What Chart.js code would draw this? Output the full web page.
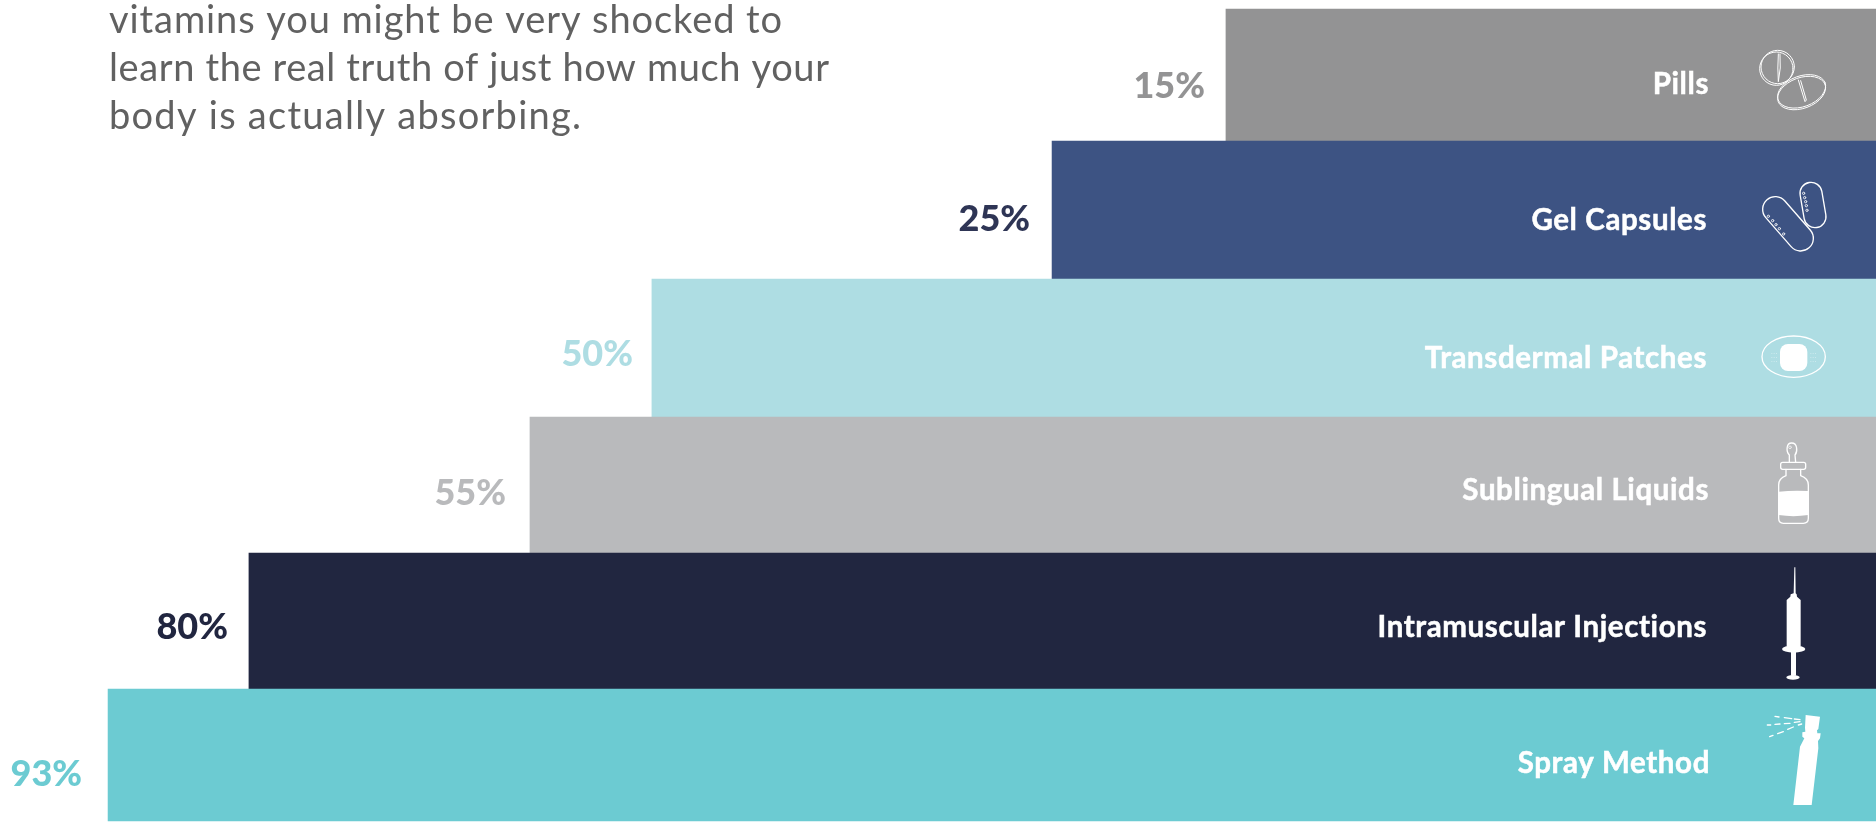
<!DOCTYPE html>
<html>
<head>
<meta charset="utf-8">
<style>html,body{margin:0;padding:0;background:#fff;overflow:hidden}canvas{display:block}</style>
<script src="https://cdn.jsdelivr.net/npm/chart.js@4/dist/chart.umd.min.js"></script>
</head>
<body>
<canvas id="c" width="1876" height="822"></canvas>
<script>
const introLines = ["vitamins you might be very shocked to","learn the real truth of just how much your","body is actually absorbing."];
const categories = ["Pills","Gel Capsules","Transdermal Patches","Sublingual Liquids","Intramuscular Injections","Spray Method"];
const absorption = [15,25,50,55,80,93];
const barColors = ["#939394","#3d5383","#aedde3","#b9babc","#212640","#6ccbd2"];
const labelColors = ["#939394","#2e3555","#aedde3","#b9babc","#212640","#6ccbd2"];

// The picture's bar lengths are not proportional to the printed percentages,
// so the value axis is a piecewise scale: value -> share of the plot width.
const axisValues = [0,15,25,50,55,80,93];
const axisShares = [0,0.3465,0.4392,0.6525,0.7175,0.8673,0.9424];
class StepAxis extends Chart.LinearScale {
  static id = 'stepAxis';
  static defaults = Chart.LinearScale.defaults;
  getPixelForValue(v){
    let i = 1;
    while(i < axisValues.length-1 && v > axisValues[i]) i++;
    const t = (v-axisValues[i-1])/(axisValues[i]-axisValues[i-1]);
    const s = axisShares[i-1]+t*(axisShares[i]-axisShares[i-1]);
    return this.right - s*(this.right-this.left);
  }
}
// The bands are slightly uneven in the picture; centres are shares of the plot height.
const bandShares = [0.0823,0.2445,0.4214,0.5835,0.7555,0.9177];
class BandAxis extends Chart.CategoryScale {
  static id = 'bandAxis';
  static defaults = Chart.CategoryScale.defaults;
  getPixelForValue(v){
    const i = typeof v === 'number' ? v : this.parse(v);
    return this.top + bandShares[i]*(this.bottom-this.top);
  }
}
Chart.register(StepAxis, BandAxis);

const catDy = [9.5,13.5,7.5,7.5,4.5,8.5];
const pctDy = [11.5,12.5,3,10,4.5,19.5];
const catRight = [1709,1707,1707,1709,1707,1710];
const pctGap = [21,22,19,24,21,26];
const introWidths = [673,720,472];

function icons(ctx){
  const W='#fff';
  function at(x,y,f){ctx.save();ctx.translate(x,y);ctx.scale(1/3,1/3);ctx.strokeStyle=W;ctx.fillStyle=W;ctx.lineWidth=4;ctx.lineCap='round';ctx.lineJoin='round';f();ctx.restore();}
  const capsule=(x1,y1,x2,y2,r)=>{const a=Math.atan2(y2-y1,x2-x1);ctx.beginPath();ctx.arc(x1,y1,r,a+Math.PI/2,a-Math.PI/2);ctx.arc(x2,y2,r,a-Math.PI/2,a+Math.PI/2);ctx.closePath();ctx.stroke();};
  const poly=p=>{ctx.beginPath();p.forEach((q,i)=>i?ctx.lineTo(q[0],q[1]):ctx.moveTo(q[0],q[1]));};
  // pills
  at(1750,40,()=>{
    ctx.lineWidth=3;
    ctx.beginPath();ctx.arc(79,86,50,0,7);ctx.stroke();
    ctx.beginPath();ctx.arc(83,81,50,0,7);ctx.stroke();
    ctx.beginPath();ctx.moveTo(85,42);ctx.quadraticCurveTo(82,85,85,125);ctx.quadraticCurveTo(94,85,90,42);ctx.stroke();
    ctx.beginPath();ctx.ellipse(155,159,75,46,-0.35,0,7);ctx.stroke();
    ctx.beginPath();ctx.ellipse(155,154,75,46,-0.35,0,7);ctx.stroke();
    ctx.beginPath();ctx.moveTo(145,120);ctx.lineTo(165,185);ctx.lineTo(169,180);ctx.lineTo(152,122);ctx.stroke();
  });
  // gel capsules
  at(1750,170,()=>{
    capsule(76,118,152,205,38);
    capsule(183,70,195,140,33);
    ctx.lineWidth=2.5;
    [[55,139],[68,152],[78,164],[88,176],[101,192]].forEach(p=>{ctx.beginPath();ctx.arc(p[0],p[1],3.5,0,7);ctx.stroke();});
    [[161,70],[164,83],[167,95],[169,107],[171,121]].forEach(p=>{ctx.beginPath();ctx.arc(p[0],p[1],3.5,0,7);ctx.stroke();});
  });
  // patch
  at(1750,325,()=>{
    ctx.beginPath();ctx.ellipse(131,95,95,62,0,0,7);ctx.stroke();
    ctx.beginPath();ctx.roundRect(90,57,82,81,24);ctx.fill();
    ctx.fillStyle='rgba(255,255,255,.55)';
    [64,71,78,181,188,195].forEach(x=>[85,97,109].forEach(y=>ctx.fillRect(x,y,3,2)));
  });
  // dropper bottle
  at(1760,435,()=>{
    ctx.beginPath();
    ctx.moveTo(88,82);ctx.lineTo(88,60);ctx.bezierCurveTo(78,50,78,24,95,24);ctx.bezierCurveTo(113,24,113,50,105,60);ctx.lineTo(107,82);
    ctx.stroke();
    ctx.beginPath();ctx.arc(90,37,4,0,7);ctx.lineWidth=2;ctx.stroke();ctx.lineWidth=4;
    ctx.beginPath();ctx.roundRect(62,82,75,21,6);ctx.stroke();
    ctx.beginPath();ctx.moveTo(78,103);ctx.lineTo(78,122);ctx.quadraticCurveTo(56,130,56,150);ctx.lineTo(56,250);ctx.quadraticCurveTo(56,265,70,265);ctx.lineTo(130,265);ctx.quadraticCurveTo(145,265,145,250);ctx.lineTo(145,150);ctx.quadraticCurveTo(145,130,122,122);ctx.lineTo(122,103);ctx.stroke();
    ctx.beginPath();ctx.moveTo(56,170);ctx.quadraticCurveTo(100,165,145,168);ctx.lineTo(145,240);ctx.quadraticCurveTo(100,247,56,240);ctx.closePath();ctx.fill();
  });
  // syringe
  at(1760,560,()=>{
    poly([[103,22],[106,22],[107,100],[110,103],[111,110],[122,120],[122,258],[80,258],[80,120],[91,110],[92,103],[101,100]]);ctx.closePath();ctx.fill();
    ctx.beginPath();ctx.ellipse(101,267,35,11,0,0,7);ctx.fill();
    ctx.fillRect(93,275,15,72);
    ctx.beginPath();ctx.ellipse(99,352,20,7,0,0,7);ctx.fill();
  });
  // spray
  at(1755,705,()=>{
    poly([[152,30],[195,35],[190,72],[186,76],[187,85],[197,85],[195,100],[189,108],[190,130],[170,300],[115,300],[135,125],[148,100],[142,95],[142,82],[151,80],[150,68]]);ctx.closePath();ctx.fill();
    [[[60,34],[72,36]],[[88,38],[110,41]],[[118,42],[135,44]],[[37,60],[47,60]],[[60,58],[75,57]],[[88,56],[105,55]],[[118,52],[135,50]],[[44,95],[54,91]],[[68,86],[85,80]],[[98,73],[115,66]],[[130,60],[140,57]]].forEach(d=>{poly(d);ctx.stroke();});
  });
}

const overlay = {
  id:'overlay',
  afterDatasetsDraw(chart){
    const ctx = chart.ctx, bars = chart.getDatasetMeta(0).data, yS = chart.scales.y;
    ctx.save();
    ctx.textBaseline='middle';
    bars.forEach((b,i)=>{
      const c = yS.getPixelForValue(i);
      ctx.textAlign='right';
      ctx.font='700 29.5px Lato';
      ctx.letterSpacing='0.6px';
      ctx.fillStyle='#fff';
      ctx.strokeStyle='#fff';
      ctx.lineWidth=0.5;
      ctx.fillText(categories[i],catRight[i],c+catDy[i]);
      ctx.strokeText(categories[i],catRight[i],c+catDy[i]);
      ctx.font='900 36px Lato';
      ctx.letterSpacing='0px';
      ctx.fillStyle=labelColors[i];
      ctx.fillText(absorption[i]+'%',b.x-pctGap[i],c+pctDy[i]);
    });
    ctx.textAlign='left';ctx.textBaseline='alphabetic';
    ctx.font='400 38px Lato';
    ctx.fillStyle='#616161';
    introLines.forEach((t,i)=>{
      ctx.letterSpacing='0px';
      const w = ctx.measureText(t).width;
      ctx.letterSpacing=((introWidths[i]-w)/(t.length-1)).toFixed(3)+'px';
      ctx.fillText(t,109,33+48*i);
    });
    ctx.letterSpacing='0px';
    icons(ctx);
    ctx.restore();
  }
};

new Chart(document.getElementById('c'),{
  type:'bar',
  data:{labels:categories,datasets:[{data:absorption,backgroundColor:barColors,borderWidth:0,barPercentage:1,categoryPercentage:1,barThickness:'flex'}]},
  options:{
    indexAxis:'y',responsive:false,animation:false,devicePixelRatio:1,
    layout:{padding:{top:8,left:0,right:0,bottom:0}},
    plugins:{legend:{display:false},tooltip:{enabled:false}},
    scales:{
      x:{type:'stepAxis',min:0,max:100,display:false},
      y:{type:'bandAxis',display:false}
    }
  },
  plugins:[overlay]
});
</script>
</body>
</html>
